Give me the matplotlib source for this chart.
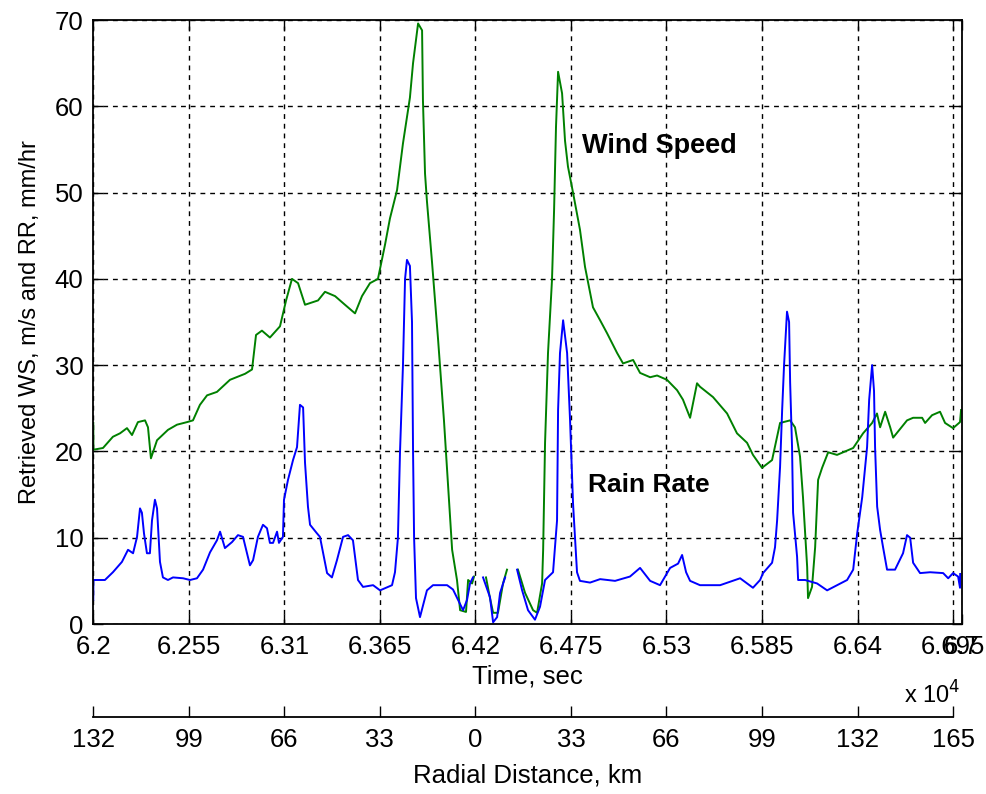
import numpy as np
import matplotlib.pyplot as plt

plt.rcParams['font.family'] = ['Liberation Sans', 'DejaVu Sans']

nan = np.nan

# wind speed (m/s) vs time (sec), NaN = no retrieval
ws_time = [62000, 62001, 62056, 62113, 62154, 62194, 62223, 62257, 62298, 62315,
           62332, 62367, 62430, 62482, 62540, 62574, 62614, 62655, 62712, 62787,
           62874, 62914, 62937, 62971, 63017, 63075, 63110, 63144, 63179, 63219,
           63294, 63334, 63392, 63449, 63507, 63547, 63593, 63639, 63680, 63708,
           63749, 63783, 63823, 63841, 63870, 63893, 63898, 63910, 63921, 63950,
           63985, 64019, 64048, 64066, 64094, 64112, 64146, 64158, 64181, 64192,
           64220,
           64261, 64284, 64302, 64330, 64359, 64382,
           64410,
           64445, 64486, 64532, 64555, 64584, 64590, 64601, 64618, 64641, 64653,
           64664, 64676, 64699, 64716, 64733, 64762, 64802, 64831, 64877, 64918,
           64958, 65016, 65050, 65108, 65148, 65206, 65246, 65303, 65361, 65395,
           65436, 65476, 65493, 65568, 65649, 65706, 65764, 65798, 65850, 65908,
           65954, 66012, 66040, 66069, 66086, 66110, 66115, 66138, 66156, 66173,
           66196, 66231, 66282, 66375, 66432, 66484, 66512, 66530, 66559, 66588,
           66605, 66685, 66720, 66772, 66789, 66829, 66875, 66904, 66950, 66990,
           66996]
ws_value = [23.3, 20.2, 20.4, 21.7, 22.1, 22.7, 21.9, 23.4, 23.6, 22.8,
            19.2, 21.3, 22.5, 23.1, 23.4, 23.6, 25.4, 26.5, 26.9, 28.3,
            29.0, 29.5, 33.5, 34.0, 33.2, 34.5, 37.5, 40.0, 39.5, 37.0,
            37.5, 38.5, 38.0, 37.0, 36.0, 38.0, 39.5, 40.0, 44.0, 47.0,
            50.3, 55.7, 61.0, 65.0, 69.6, 68.8, 60.7, 52.2, 49.0, 42.0,
            33.0, 23.6, 14.4, 8.6, 5.1, 1.6, 1.4, 5.1, 4.7, 5.5,
            nan,
            5.4, 3.0, 1.3, 1.3, 4.7, 6.3,
            nan,
            6.3, 3.6, 1.6, 1.3, 4.7, 8.6, 21.0, 31.4, 39.9, 48.0,
            57.6, 64.0, 61.5, 56.0, 53.0, 50.0, 45.7, 41.4, 36.7, 35.2,
            33.7, 31.4, 30.2, 30.6, 29.1, 28.6, 28.8, 28.3, 27.1, 26.0,
            23.9, 27.9, 27.5, 26.3, 24.4, 22.1, 21.0, 19.6, 18.1, 19.0,
            23.3, 23.6, 22.8, 19.4, 14.7, 6.6, 3.0, 4.3, 8.9, 16.7,
            18.1, 19.9, 19.6, 20.4, 22.1, 23.3, 24.4, 22.8, 24.6, 22.8,
            21.6, 23.6, 23.9, 23.9, 23.3, 24.2, 24.6, 23.3, 22.7, 23.4,
            24.8]

# rain rate (mm/hr) vs time (sec)
rr_time = [62000, 62001, 62067, 62113, 62165, 62200, 62229, 62252, 62269, 62280,
           62292, 62309, 62326, 62338, 62355, 62367, 62384, 62401, 62430, 62459,
           62517, 62557, 62597, 62632, 62672, 62712, 62730, 62758, 62799, 62833,
           62862, 62885, 62902, 62920, 62948, 62977, 63000, 63017, 63035, 63058,
           63069, 63092, 63098, 63121, 63150, 63173, 63190, 63208, 63219, 63236,
           63248, 63288, 63305, 63346, 63374, 63403, 63438, 63467, 63495, 63524,
           63553, 63611, 63651, 63720, 63737, 63754, 63766, 63783, 63795, 63806,
           63823, 63835, 63841, 63847, 63858, 63881, 63921, 63956, 64037, 64071,
           64100, 64129, 64152, 64169, 64186,
           64215,
           64244, 64284, 64302, 64325, 64342, 64371,
           64405,
           64440, 64469, 64503, 64543, 64572, 64601, 64647, 64670, 64676, 64687,
           64705, 64728, 64745, 64762, 64785, 64802, 64860, 64918, 65004, 65090,
           65148, 65206, 65263, 65321, 65367, 65390, 65413, 65436, 65493, 65609,
           65724, 65798, 65839, 65856, 65908, 65925, 65937, 65954, 65966, 65977,
           65994, 66006, 66012, 66023, 66029, 66052, 66058, 66098, 66167, 66225,
           66282, 66340, 66375, 66398, 66427, 66455, 66467, 66484, 66495, 66501,
           66513, 66530, 66547, 66570, 66616, 66662, 66685, 66703, 66720, 66760,
           66818, 66893, 66922, 66950, 66979, 66990, 66991]
rr_value = [2.8, 5.1, 5.1, 6.0, 7.2, 8.6, 8.2, 10.1, 13.4, 12.9,
            10.5, 8.2, 8.2, 12.0, 14.4, 13.4, 7.2, 5.4, 5.1, 5.4,
            5.3, 5.1, 5.3, 6.3, 8.3, 9.7, 10.7, 8.8, 9.5, 10.3,
            10.1, 8.2, 6.8, 7.4, 10.1, 11.5, 11.1, 9.4, 9.4, 10.7,
            9.4, 10.1, 14.4, 16.7, 19.0, 20.5, 25.4, 25.1, 18.7, 13.6,
            11.5, 10.5, 10.1, 5.9, 5.4, 7.4, 10.1, 10.3, 9.7, 5.1,
            4.3, 4.5, 3.9, 4.5, 6.0, 10.0, 20.0, 30.0, 40.0, 42.2,
            41.5, 35.0, 20.0, 10.0, 3.0, 0.8, 3.9, 4.5, 4.5, 4.0,
            2.8, 1.6, 2.8, 4.7, 5.4,
            nan,
            5.4, 3.1, 0.2, 0.8, 3.6, 5.4,
            nan,
            6.3, 3.9, 1.6, 0.5, 2.0, 5.1, 6.0, 12.0, 24.8, 31.4,
            35.2, 31.4, 23.6, 14.0, 6.0, 5.0, 4.8, 5.2, 5.0, 5.5,
            6.5, 5.0, 4.5, 6.5, 7.0, 8.0, 6.0, 5.0, 4.5, 4.5,
            5.3, 4.2, 5.1, 5.9, 7.1, 8.9, 12.0, 18.2, 24.8, 30.0,
            36.2, 35.0, 28.0, 20.5, 12.9, 7.8, 5.1, 5.1, 4.7, 3.9,
            4.5, 5.1, 6.3, 10.5, 14.7, 20.5, 26.0, 30.0, 27.0, 20.5,
            13.6, 10.9, 8.9, 6.3, 6.3, 8.2, 10.3, 10.0, 7.1, 5.9,
            6.0, 5.9, 5.3, 5.9, 5.5, 4.2, 5.8]

time_ticks = [6.2, 6.255, 6.31, 6.365, 6.42, 6.475, 6.53, 6.585, 6.64, 6.695, 6.7]
time_labels = ['6.2', '6.255', '6.31', '6.365', '6.42', '6.475', '6.53', '6.585',
               '6.64', '6.695', '6.7']
dist_labels = ['132', '99', '66', '33', '0', '33', '66', '99', '132', '165']

fs = 18.5

fig = plt.figure(figsize=(9.86, 7.94), dpi=100)
ax = fig.add_axes([0.0946, 0.2141, 0.8808, 0.7607])

ax.plot(np.array(ws_time) / 1e4, ws_value, color='#008000', lw=1.4)
ax.plot(np.array(rr_time) / 1e4, rr_value, color='#0000ff', lw=1.4)

ax.set_xlim(6.2, 6.7)
ax.set_ylim(0, 70)
ax.set_xticks(time_ticks)
ax.set_xticklabels(time_labels)
ax.set_yticks(range(0, 71, 10))
ax.tick_params(direction='in', length=7, width=1, top=True, right=True,
               labelsize=fs)
ax.tick_params(axis='x', pad=8)
ax.tick_params(axis='y', pad=7)
ax.grid(True, color='black', linestyle=(0, (3.5, 3.5)), linewidth=1)
for s in ax.spines.values():
    s.set_linewidth(1.3)

ax.set_xlabel('Time, sec', fontsize=fs, labelpad=4)
ax.set_ylabel('Retrieved WS, m/s and RR, mm/hr', fontsize=17, labelpad=10)

ax.text(6.4812, 55.4, 'Wind Speed', fontsize=19.5, fontweight='bold', va='center')
ax.text(6.4848, 16.1, 'Rain Rate', fontsize=19, fontweight='bold', va='center')

fig.text(0.917, 0.125, r'x 10$^{4}$', fontsize=17, ha='left', va='center')

# second axis: radial distance
ax2 = fig.add_axes([0.0946, 0.097, 0.8808, 0.001])
ax2.set_xlim(6.2, 6.7)
ax2.set_yticks([])
for side in ['top', 'left', 'right']:
    ax2.spines[side].set_visible(False)
ax2.spines['bottom'].set_linewidth(1.3)
ax2.spines['bottom'].set_bounds(6.2, 6.695)
ax2.patch.set_visible(False)
ax2.set_xticks(time_ticks[:-1])
ax2.set_xticklabels(dist_labels)
ax2.tick_params(direction='in', length=8, width=1, labelsize=fs, pad=8)
ax2.set_xlabel('Radial Distance, km', fontsize=fs, labelpad=8)

fig.savefig('out.png', dpi=100)
